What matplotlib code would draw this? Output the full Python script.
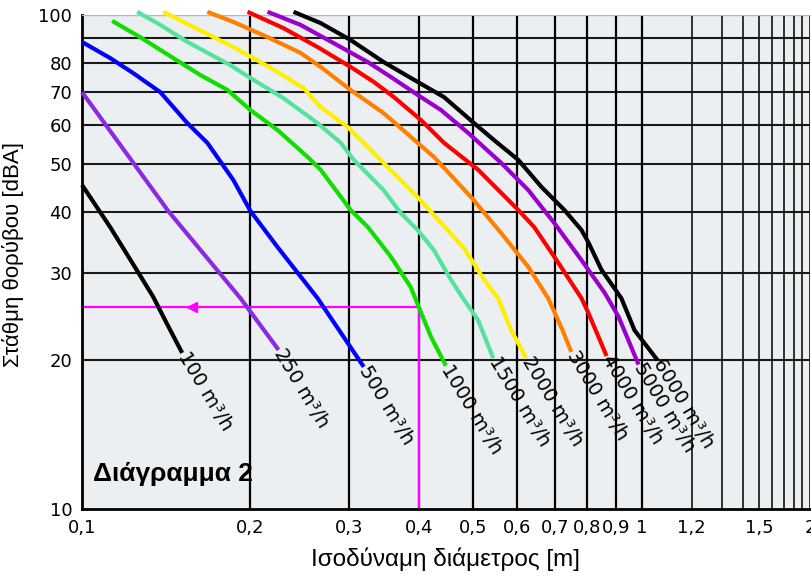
import numpy as np
import matplotlib
matplotlib.use('Agg')
import matplotlib.pyplot as plt
from matplotlib import font_manager

# --- data (diameter [m], noise level [dBA]) ---
flows = [100, 250, 500, 1000, 1500, 2000, 3000, 4000, 5000, 6000]
colors = ['#000000', '#8a2be2', '#0000ff', '#11dd00', '#55e39c',
          '#ffee00', '#ff8000', '#ff0000', '#9900cc', '#000000']

d_100 = [0.100, 0.1123, 0.1245, 0.134, 0.1408, 0.151]
L_100 = [45.3, 37.2, 30.8, 26.9, 24.1, 20.7]

d_250 = [0.100, 0.1426, 0.192, 0.2245]
L_250 = [69.8, 40.1, 26.7, 21.0]

d_500 = [0.100, 0.1123, 0.1234, 0.138, 0.1543, 0.1675, 0.1865, 0.200,
         0.2236, 0.2637, 0.3188]
L_500 = [88.2, 81.8, 76.3, 69.8, 60.4, 55.1, 46.3, 40.1, 33.9, 26.7, 19.4]

d_1000 = [0.1132, 0.127, 0.1456, 0.1627, 0.182, 0.200, 0.2236, 0.253,
          0.267, 0.302, 0.3243, 0.3565, 0.387, 0.400, 0.4205, 0.447]
L_1000 = [97.3, 90.2, 81.8, 75.6, 70.5, 64.2, 58.5, 51.6, 48.6, 40.3,
          37.2, 32.4, 28.1, 25.6, 22.3, 19.5]

d_1500 = [0.1255, 0.138, 0.1543, 0.184, 0.2025, 0.229, 0.2637, 0.290,
          0.306, 0.346, 0.3715, 0.398, 0.4256, 0.4565, 0.4818, 0.5105, 0.543]
L_1500 = [101.5, 95.5, 88.2, 79.2, 73.9, 67.9, 60.4, 55.1, 50.9, 44.2,
          39.7, 36.7, 33.4, 29.1, 26.5, 24.1, 20.2]

d_2000 = [0.1397, 0.158, 0.1865, 0.2084, 0.2236, 0.249, 0.267, 0.2985,
          0.3188, 0.352, 0.398, 0.4818, 0.5233, 0.5542, 0.585, 0.622]
L_2000 = [101.5, 94.6, 86.1, 80.3, 76.7, 71.1, 65.1, 59.3, 55.1, 49.2,
          42.8, 33.7, 29.1, 26.7, 23.0, 20.2]

d_3000 = [0.1675, 0.1865, 0.2146, 0.2458, 0.267, 0.302, 0.346, 0.398,
          0.4256, 0.4957, 0.561, 0.6275, 0.681, 0.719, 0.749]
L_3000 = [101.5, 96.8, 90.2, 83.8, 78.5, 70.5, 63.3, 55.1, 51.6, 42.8,
          36.2, 30.9, 26.7, 23.3, 20.8]

d_4000 = [0.1976, 0.229, 0.2637, 0.302, 0.3323, 0.361, 0.4034, 0.4436,
          0.5105, 0.602, 0.643, 0.710, 0.781, 0.804, 0.866]
L_4000 = [101.5, 94.1, 86.1, 78.5, 73.2, 68.2, 61.3, 55.1, 48.6, 40.3,
          37.2, 31.5, 26.7, 24.9, 20.4]

d_5000 = [0.2146, 0.2458, 0.2817, 0.3242, 0.3565, 0.398, 0.4382, 0.490,
          0.561, 0.6275, 0.6985, 0.781, 0.859, 0.9098, 0.9876]
L_5000 = [101.5, 95.5, 87.7, 80.3, 74.9, 68.9, 64.2, 57.7, 50.2, 44.2,
          37.9, 31.9, 27.4, 24.5, 19.6]

d_6000 = [0.2388, 0.267, 0.302, 0.346, 0.398, 0.4436, 0.502, 0.5452,
          0.602, 0.662, 0.7278, 0.781, 0.804, 0.8478, 0.9204, 0.9716, 1.064]
L_6000 = [101.5, 96.3, 89.0, 80.3, 73.2, 68.2, 60.4, 55.8, 50.9, 44.9,
          40.3, 36.7, 34.6, 30.5, 26.7, 23.0, 20.0]

curves_d = [d_100, d_250, d_500, d_1000, d_1500, d_2000, d_3000, d_4000, d_5000, d_6000]
curves_L = [L_100, L_250, L_500, L_1000, L_1500, L_2000, L_3000, L_4000, L_5000, L_6000]

# worked example (magenta guide)
ex_d = 0.4
ex_L = 25.6
ex_arrow_d = 0.157

x_ticks = [0.1, 0.2, 0.3, 0.4, 0.5, 0.6, 0.7, 0.8, 0.9, 1.0, 1.2, 1.5, 2.0]
x_ticklabels = ['0,1', '0,2', '0,3', '0,4', '0,5', '0,6', '0,7', '0,8',
                '0,9', '1', '1,2', '1,5', '2']
x_grid_lo = [0.2, 0.3, 0.4, 0.5, 0.6, 0.7, 0.8, 0.9, 1.0]
x_grid_hi = [1.2, 1.3, 1.4, 1.5, 1.6, 1.7, 1.8, 1.9, 2.0]
y_ticks = [10, 20, 30, 40, 50, 60, 70, 80, 100]
y_grid = [20, 30, 40, 50, 60, 70, 80, 90, 100]


# the chart's x axis is log up to 1 and then squeezes towards 2
A = 50 / 558
B = 73.3 / 558


def fwd(x):
    x = np.asarray(x, dtype=float)
    with np.errstate(all='ignore'):
        lo = np.log10(np.where(x > 0, x, 1e-12))
        mid = (x - 1) / 0.2 * A
        hi = A + B * np.log((np.where(x > 1.2, x, 1.2) - 1) / 0.2)
    return np.where(x <= 1, lo, np.where(x <= 1.2, mid, hi))


def inv(y):
    y = np.asarray(y, dtype=float)
    with np.errstate(all='ignore'):
        lo = 10 ** y
        mid = 1 + 0.2 * y / A
        hi = 1 + 0.2 * np.exp((y - A) / B)
    return np.where(y <= 0, lo, np.where(y <= A, mid, hi))


names = {f.name for f in font_manager.fontManager.ttflist}
narrow = 'Liberation Sans Narrow' if 'Liberation Sans Narrow' in names else 'DejaVu Sans'
plain = 'Liberation Sans' if 'Liberation Sans' in names else 'DejaVu Sans'

fig = plt.figure(figsize=(8.12, 5.78), dpi=100)
ax = fig.add_axes([82 / 812, 69 / 578, 728 / 812, 494 / 578])
ax.set_facecolor('#ebeff2')
ax.set_xscale('function', functions=(fwd, inv))
ax.set_yscale('log')
ax.set_xlim(0.1, 2.0)
ax.set_ylim(10, 100)

for v in y_grid:
    ax.axhline(v, color='#1a1a1a', lw=1.5, zorder=1)
for v in x_grid_lo:
    ax.axvline(v, color='#000000', lw=1.6, zorder=1)
for v in x_grid_hi:
    ax.axvline(v, color='#111111', lw=1.2, zorder=1)

for d, L, c in zip(curves_d, curves_L, colors):
    ax.plot(d, L, color=c, lw=3.0, solid_capstyle='butt', zorder=3,
            clip_on=False)

for d, L, q in zip(curves_d, curves_L, flows):
    ax.text(d[-1], L[-1], f'{q} m³/h', rotation=-59, rotation_mode='anchor',
            ha='left', va='center', fontsize=14, family='DejaVu Sans',
            zorder=4)

# magenta reading guide
ax.plot([0.1, ex_d], [ex_L, ex_L], color='#ff00ff', lw=1.6, zorder=2)
ax.plot([ex_d, ex_d], [10, ex_L], color='#ff00ff', lw=1.6, zorder=2)
ax.plot([ex_arrow_d], [ex_L], marker='<', color='#ff00ff', ms=7, zorder=2)

ax.text(0.1045, 11.75, 'Διάγραμμα 2', fontsize=19, fontweight='bold',
        family=plain, ha='left', va='center', zorder=5)

ax.set_xticks(x_ticks)
ax.set_xticklabels(x_ticklabels)
ax.xaxis.set_minor_locator(matplotlib.ticker.NullLocator())
ax.set_yticks(y_ticks)
ax.set_yticklabels([str(v) for v in y_ticks])
ax.yaxis.set_minor_locator(matplotlib.ticker.NullLocator())
ax.tick_params(length=0, labelsize=13, pad=7)
for lab in ax.get_xticklabels() + ax.get_yticklabels():
    lab.set_family(narrow)

ax.spines['right'].set_visible(False)
ax.spines['top'].set_color('#b8b8b8')
ax.spines['left'].set_linewidth(2)
ax.spines['bottom'].set_linewidth(2)

ax.set_xlabel('Ισοδύναμη διάμετρος [m]', fontsize=17.5, family=plain, labelpad=8)
ax.set_ylabel('Στάθμη θορύβου [dBA]', fontsize=16, family=plain, va='center')
ax.yaxis.set_label_coords(-(82 - 13) / 728, 0.515)

fig.savefig('out.png', dpi=100)
